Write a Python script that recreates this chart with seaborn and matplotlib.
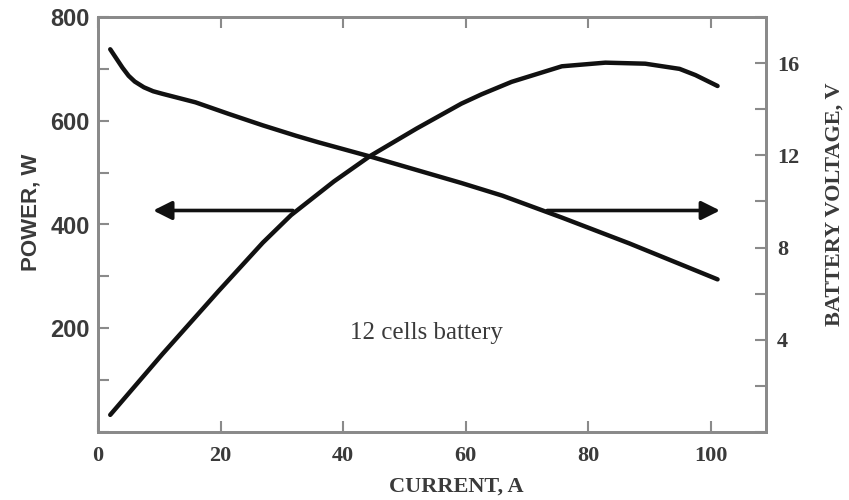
import pandas as pd
import matplotlib
matplotlib.use('Agg')
import matplotlib.pyplot as plt
import seaborn as sns
from matplotlib.ticker import MultipleLocator

# 데이터
power_current = [2.0, 10.5, 19.7, 26.9, 31.5, 38.5, 44.4, 52.0, 59.3, 62.6,
                 67.5, 75.7, 82.8, 89.3, 94.9, 97.5, 101.1]
power_watt = [33, 150, 272, 365, 418, 483, 532, 585, 633, 651,
              675, 705, 712, 710, 700, 688, 667]

volt_current = [2.0, 3.0, 4.0, 5.0, 6.0, 7.5, 9.0, 10.5, 15.9, 21.3, 26.9, 32.3,
                35.9, 44.4, 59.3, 66.0, 75.7, 86.7, 101.1]
volt_value = [16.6, 16.2, 15.8, 15.45, 15.2, 14.95, 14.78, 14.67, 14.3, 13.8, 13.3, 12.85,
              12.57, 11.95, 10.8, 10.25, 9.3, 8.18, 6.62]

x_ticks = [0, 20, 40, 60, 80, 100]
power_ticks = [200, 400, 600, 800]
volt_ticks = [4, 8, 12, 16]

power_df = pd.DataFrame({'current': power_current, 'power': power_watt})
volt_df = pd.DataFrame({'current': volt_current, 'voltage': volt_value})

sns.set_style('ticks')
serif = 'Liberation Serif'
sans = 'Liberation Sans'
txt = '#3a3a3a'
spine_c = '#8a8a8a'

fig = plt.figure(figsize=(8.49, 5.0), dpi=100)
ax = fig.add_axes([0.1154, 0.136, 0.7868, 0.83])
ax2 = ax.twinx()

sns.lineplot(data=power_df, x='current', y='power', ax=ax, color='#111111', lw=3.2)
sns.lineplot(data=volt_df, x='current', y='voltage', ax=ax2, color='#111111', lw=3.2)

ax.set_xlim(0, 109)
ax.set_ylim(0, 800)
ax2.set_ylim(0, 18)

ax.set_xticks(x_ticks)
ax.set_yticks(power_ticks)
ax.yaxis.set_minor_locator(MultipleLocator(100))
ax2.set_yticks(volt_ticks)
ax2.yaxis.set_minor_locator(MultipleLocator(2))

for a in (ax, ax2):
    for s in a.spines.values():
        s.set_color(spine_c)
        s.set_linewidth(2)

ax.tick_params(axis='x', which='both', direction='in', top=True, length=8, width=1.5,
               color=spine_c, pad=10)
ax.tick_params(axis='y', which='both', direction='in', right=False, length=8, width=1.5,
               color=spine_c, pad=6)
ax2.tick_params(axis='y', which='both', direction='in', length=8, width=1.5,
                color=spine_c, pad=8)

for lb in ax.get_xticklabels():
    lb.set_fontfamily(serif); lb.set_fontsize(16); lb.set_fontweight('bold'); lb.set_color(txt)
for lb in ax.get_yticklabels():
    lb.set_fontfamily(sans); lb.set_fontsize(17); lb.set_fontweight('bold'); lb.set_color(txt)
for lb in ax2.get_yticklabels():
    lb.set_fontfamily(serif); lb.set_fontsize(16); lb.set_fontweight('bold'); lb.set_color(txt)

ax.set_xlabel('CURRENT, A', fontfamily=serif, fontsize=16, fontweight='bold', color=txt)
ax.xaxis.set_label_coords(0.537, -0.108)
ax.set_ylabel('POWER, W', fontfamily=sans, fontsize=16, fontweight='bold', color=txt)
ax.yaxis.set_label_coords(-0.085, 0.53)
ax2.set_ylabel('BATTERY VOLTAGE, V', fontfamily=serif, fontsize=16, fontweight='bold',
               color=txt)
ax2.yaxis.set_label_coords(1.088, 0.55)

# 화살표 (왼쪽: 전력축, 오른쪽: 전압축)
arrow = dict(arrowstyle='-|>', color='#111111', lw=2.6, mutation_scale=28,
             shrinkA=0, shrinkB=0)
ax.annotate('', xy=(9.0, 427), xytext=(31.8, 427), arrowprops=arrow)
ax.annotate('', xy=(101.5, 427), xytext=(73.3, 427), arrowprops=arrow)

ax.text(53.6, 190, '12 cells battery', fontfamily=serif, fontsize=18, color=txt,
        ha='center', va='center')

fig.savefig('out.png', dpi=100, facecolor='white')
